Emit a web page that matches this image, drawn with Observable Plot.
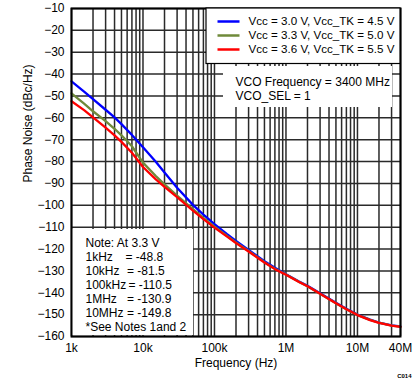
<!DOCTYPE html>
<html>
<head>
<meta charset="utf-8">
<script src="https://cdn.jsdelivr.net/npm/d3@7"></script>
<script src="https://cdn.jsdelivr.net/npm/@observablehq/plot@0.6"></script>
<style>
  html, body { margin: 0; padding: 0; background: #fff; }
  svg { display: block; }
</style>
</head>
<body>
<div id="chart"></div>
<script>
// ---- data ----
const freqs = [1e3, 1.5e3, 2e3, 3e3, 4e3, 5e3, 7e3, 1e4, 1.5e4, 2e4, 3e4, 5e4, 7e4, 1e5, 1.5e5, 2e5, 3e5, 5e5, 7e5, 1e6, 1.5e6, 2e6, 3e6, 5e6, 7e6, 1e7, 1.5e7, 2e7, 3e7, 4e7];
const blue  = [-43.3, -48.0, -51.5, -56.3, -59.8, -62.9, -67.8, -73.5, -80.0, -85.0, -92.0, -99.8, -104.3, -108.6, -113.2, -116.3, -120.4, -125.6, -128.6, -131.5, -134.7, -136.8, -140.2, -144.6, -147.3, -150.0, -152.3, -153.6, -154.9, -155.4];
const green = [-48.8, -53.5, -57.0, -61.5, -65.0, -68.0, -73.0, -80.5, -86.5, -90.4, -95.6, -101.8, -105.8, -109.8, -114.0, -117.0, -120.9, -126.0, -129.0, -131.6, -134.9, -137.0, -140.4, -144.8, -147.5, -150.1, -152.4, -153.7, -155.0, -155.5];
const red   = [-52.4, -56.5, -59.8, -64.5, -68.0, -71.0, -76.0, -82.5, -88.0, -91.6, -96.3, -102.4, -106.3, -110.2, -114.3, -117.3, -121.1, -126.2, -129.2, -131.8, -135.0, -137.0, -140.4, -144.8, -147.5, -150.2, -152.5, -153.8, -155.0, -155.6];
const seriesNames = ["Vcc = 3.0 V, Vcc_TK = 4.5 V", "Vcc = 3.3 V, Vcc_TK = 5.0 V", "Vcc = 3.6 V, Vcc_TK = 5.5 V"];
const seriesColors = ["#0000ff", "#6f8a3a", "#ff0000"];
const xTickValues = [1e3, 1e4, 1e5, 1e6, 1e7, 4e7];
const xTickLabels = ["1k", "10k", "100k", "1M", "10M", "40M"];
const yTickValues = d3.range(-160, -9, 10);
const noteLabels = ["1kHz", "10kHz", "100kHz", "1MHz", "10MHz"];
const noteValues = ["= -48.8", "= -81.5", "= -110.5", "= -130.9", "= -149.8"];

// ---- layout ----
const W = 419, H = 382;
const mL = 71, mR = 19, mT = 8, mB = 46;
const xDomain = [1e3, 4e7], yDomain = [-160, -10];
const xs = Plot.scale({x: {type: "log", domain: xDomain, range: [mL, W - mR]}});
const ys = Plot.scale({y: {type: "linear", domain: yDomain, range: [H - mB, mT]}});
const X = (px) => xs.invert(px), Y = (py) => ys.invert(py);

const table = [];
[blue, green, red].forEach((arr, s) => arr.forEach((v, i) => table.push({f: freqs[i], v, s})));

// full log grid
const gridX = [];
for (let e = 3; e <= 7; e++) for (let m = 1; m <= 9; m++) { const v = m * 10 ** e; if (v <= 4e7) gridX.push(v); }

const font = "Arial, 'Liberation Sans', sans-serif";
const legendRowsPx = [21, 35, 49];
const noteRowsPx = [257, 271, 285, 299, 313];
const noteEqPx = [125, 126.5, 128, 126.5, 126.5];
const gridColor = "#2a2a2a";

const chart = Plot.plot({
  width: W, height: H,
  marginLeft: mL, marginRight: mR, marginTop: mT, marginBottom: mB,
  style: {fontFamily: font, fontSize: "12px", background: "white", color: "black"},
  x: {type: "log", domain: xDomain, axis: null},
  y: {domain: yDomain, ticks: yTickValues, tickSize: 0, tickPadding: 7, label: null},
  marks: [
    Plot.ruleX(gridX, {stroke: gridColor, strokeWidth: 1.5}),
    Plot.ruleY(yTickValues, {stroke: gridColor, strokeWidth: 1.5}),
    // white panels behind annotations
    Plot.rect([0], {x1: X(223), x2: X(392), y1: Y(66), y2: Y(107), fill: "white"}),
    Plot.rect([0], {x1: X(72), x2: X(193), y1: Y(229), y2: Y(335), fill: "white"}),
    // curves
    Plot.line(table, {x: "f", y: "v", z: "s", stroke: (d) => seriesColors[d.s], strokeWidth: 2.3, curve: "linear"}),
    Plot.frame({stroke: "black", strokeWidth: 2}),
    // x tick labels
    Plot.text(xTickValues, {x: (d) => d, frameAnchor: "bottom", dy: 15, text: (d, i) => xTickLabels[i], fontSize: 12}),
    // legend
    Plot.rect([0], {x1: X(206), x2: X(400), y1: Y(8), y2: Y(63.5), fill: "white", stroke: "black", strokeWidth: 1.2}),
    Plot.link([0, 1, 2], {x1: X(217), x2: X(239), y1: (i) => Y(legendRowsPx[i]), y2: (i) => Y(legendRowsPx[i]), stroke: (i) => seriesColors[i], strokeWidth: 2.5}),
    Plot.text([0, 1, 2], {x: X(248), y: (i) => Y(legendRowsPx[i]), text: (i) => seriesNames[i], textAnchor: "start", fontSize: 11.6}),
    // VCO info
    Plot.text(["VCO Frequency = 3400 MHz", "VCO_SEL = 1"], {x: X(235), y: (d, i) => Y([82, 96][i]), text: (d) => d, textAnchor: "start", fontSize: 12}),
    // note
    Plot.text(["Note: At 3.3 V"], {x: X(85), y: Y(243), text: (d) => d, textAnchor: "start", fontSize: 12}),
    Plot.text(noteLabels, {x: X(85), y: (d, i) => Y(noteRowsPx[i]), text: (d) => d, textAnchor: "start", fontSize: 12}),
    Plot.text(noteValues, {x: (d, i) => X(noteEqPx[i]), y: (d, i) => Y(noteRowsPx[i]), text: (d) => d, textAnchor: "start", fontSize: 12}),
    Plot.text(["*See Notes 1and 2"], {x: X(85), y: Y(327), text: (d) => d, textAnchor: "start", fontSize: 12}),
    // axis titles
    Plot.text(["Phase Noise (dBc/Hz)"], {frameAnchor: "left", dx: -43, dy: 10, rotate: -90, text: (d) => d, fontSize: 12}),
    Plot.text(["Frequency (Hz)"], {frameAnchor: "bottom", dy: 30, text: (d) => d, fontSize: 12}),
    Plot.text(["C014"], {frameAnchor: "bottom-right", dx: 11, dy: 41, text: (d) => d, fontSize: 6, fontWeight: "bold"})
  ]
});
document.getElementById("chart").appendChild(chart);
</script>
</body>
</html>
